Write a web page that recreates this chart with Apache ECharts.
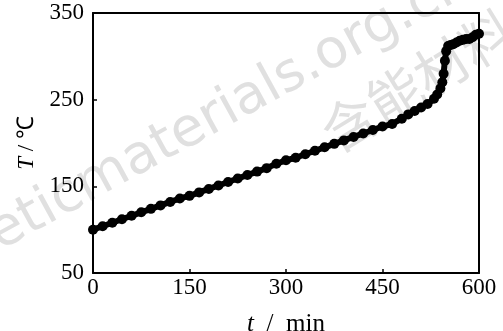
<!DOCTYPE html>
<html>
<head>
<meta charset="utf-8">
<script src="https://cdn.jsdelivr.net/npm/echarts@6/dist/echarts.min.js"></script>
<style>html,body{margin:0;padding:0;background:#fff}#c{width:503px;height:331px}</style>
</head>
<body>
<div id="c"></div>
<script>
var times = [0,15,30,45,60,75,90,105,120,135,150,165,180,195,210,225,240,255,270,285,300,315,330,345,360,375,390,405,420,435,450,465,480,490,500,510,520,530,535,540,543,545,547,549,552,556,560,565,570,575,580,585,590,595,600];
var temps = [100,104,108,112,116,120,124,128,132,136,139,143,147,151,155,159,163,167,171,176,180,183,187,191,195,199,203,207,211,215,219,222,228,233,237,241,245,251,256,263,270,280,295,306,312,313,314,316,318,319,320,320,322,325,326];
var xTicks = [0,150,300,450,600];
var yTicks = [50,150,250,350];

var chart = echarts.init(document.getElementById('c'), null, {renderer:'canvas'});
var serif = 'Liberation Serif';
var data = times.map(function(t,i){return [t, temps[i]];});
var wm = '#e0e0e0';
chart.setOption({
  animation:false,
  backgroundColor:'#fff',
  grid:{left:93,right:24,top:13,bottom:58,containLabel:false,outerBoundsMode:'none'},
  graphic:[
    {type:'text',z:0,x:6,y:262,rotation:0.5,style:{text:'eticmaterials.org.cn',fill:wm,verticalAlign:'bottom',font:'54px "DejaVu Sans"'}},
    {type:'text',z:0,x:312,y:114,rotation:0.55,style:{text:'含能材料',fill:wm,font:'54px "Noto Sans CJK SC"'}}
  ],
  xAxis:[{
    type:'value',min:0,max:600,interval:150,position:'bottom',
    name:'{i|t}  /  min',nameLocation:'middle',nameGap:39,
    nameTextStyle:{color:'#000',fontFamily:serif,fontSize:25,rich:{i:{fontStyle:'italic',fontFamily:serif,fontSize:25,color:'#000'}}},
    axisLine:{show:true,onZero:false,lineStyle:{color:'#000',width:2}},
    axisTick:{show:true,inside:true,length:4,lineStyle:{color:'#000',width:1.5}},
    axisLabel:{color:'#000',fontFamily:serif,fontSize:23,margin:3,formatter:function(v){return xTicks.indexOf(v)>=0?String(v):'';}},
    splitLine:{show:false}
  },{
    type:'value',min:0,max:600,position:'top',
    axisLine:{show:true,onZero:false,lineStyle:{color:'#000',width:2}},
    axisTick:{show:false},axisLabel:{show:false},splitLine:{show:false}
  }],
  yAxis:[{
    type:'value',min:50,max:350,interval:100,position:'left',
    name:'{i|T} / ℃',nameLocation:'middle',nameGap:55,nameRotate:90,
    nameTextStyle:{color:'#000',fontFamily:serif,fontSize:23,rich:{i:{fontStyle:'italic',fontFamily:serif,fontSize:23,color:'#000'}}},
    axisLine:{show:true,onZero:false,lineStyle:{color:'#000',width:2}},
    axisTick:{show:true,inside:true,length:4,lineStyle:{color:'#000',width:1.5}},
    axisLabel:{color:'#000',fontFamily:serif,fontSize:23,margin:9,formatter:function(v){return yTicks.indexOf(v)>=0?String(v):'';}},
    splitLine:{show:false}
  },{
    type:'value',min:50,max:350,position:'right',
    axisLine:{show:true,onZero:false,lineStyle:{color:'#000',width:2}},
    axisTick:{show:false},axisLabel:{show:false},splitLine:{show:false}
  }],
  series:[{
    type:'line',data:data,xAxisIndex:0,yAxisIndex:0,z:5,
    symbol:'circle',symbolSize:10,showSymbol:true,
    itemStyle:{color:'#000'},
    lineStyle:{color:'#000',width:6}
  }]
});
</script>
</body>
</html>
